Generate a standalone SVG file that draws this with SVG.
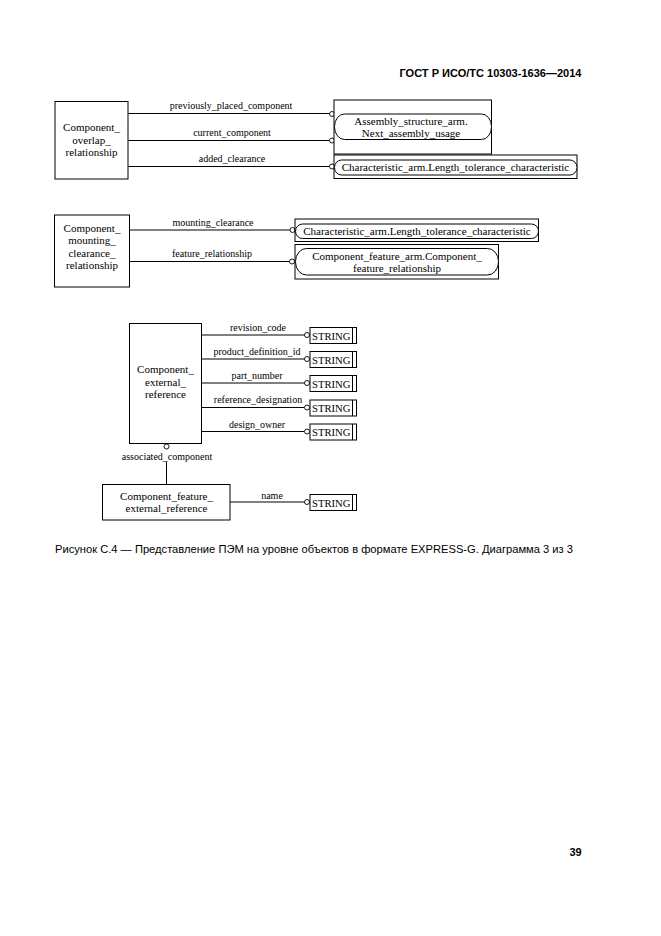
<svg xmlns="http://www.w3.org/2000/svg" width="661" height="936" viewBox="0 0 661 936">
<style>
.box{fill:#fff;stroke:#000;stroke-width:1}
.rnd{fill:#fff;stroke:#000;stroke-width:1}
.ln{fill:none;stroke:#000;stroke-width:1}
.circ{fill:#fff;stroke:#000;stroke-width:0.9}
.nt{font-family:"Liberation Serif","Times New Roman",serif;font-size:11px;text-anchor:middle;fill:#000}
.lb{font-family:"Liberation Serif","Times New Roman",serif;font-size:10px;text-anchor:middle;fill:#000}
.st{font-family:"Liberation Serif","Times New Roman",serif;font-size:10.5px;fill:#000}
.hd{font-family:"Liberation Sans",Arial,sans-serif;font-weight:bold;font-size:11px;fill:#000}
.cap{font-family:"Liberation Sans",Arial,sans-serif;font-size:10.5px;fill:#000}
</style>
<defs>
<g id="strbox">
<rect class="box" x="0" y="0" width="46.5" height="16"/>
<line class="ln" x1="42.5" y1="0" x2="42.5" y2="16"/>
<text class="st" x="2" y="12" textLength="38.5" lengthAdjust="spacingAndGlyphs">STRING</text>
</g>
</defs>
<rect x="0" y="0" width="661" height="936" fill="#fff"/>
<text class="hd" x="399.5" y="77" textLength="182" lengthAdjust="spacingAndGlyphs">ГОСТ Р ИСО/ТС 10303-1636—2014</text>

<g id="connectors">
<line class="ln" x1="128" y1="113.5" x2="329.5" y2="113.5"/>
<circle class="circ" cx="332" cy="114" r="2.5"/>
<text class="lb" x="231" y="109">previously_placed_component</text>
<line class="ln" x1="128" y1="140.5" x2="329.5" y2="140.5"/>
<circle class="circ" cx="332" cy="140.5" r="2.5"/>
<text class="lb" x="232" y="136">current_component</text>
<line class="ln" x1="128" y1="166.5" x2="329.5" y2="166.5"/>
<circle class="circ" cx="332" cy="166.5" r="2.5"/>
<text class="lb" x="232" y="162">added_clearance</text>

<line class="ln" x1="129.5" y1="230" x2="290" y2="230"/>
<circle class="circ" cx="292.5" cy="230" r="2.5"/>
<text class="lb" x="213" y="226">mounting_clearance</text>
<line class="ln" x1="129.5" y1="261.5" x2="289.5" y2="261.5"/>
<circle class="circ" cx="292" cy="261.5" r="2.5"/>
<text class="lb" x="212" y="257">feature_relationship</text>

<line class="ln" x1="202" y1="335" x2="304.5" y2="335"/>
<circle class="circ" cx="307" cy="335" r="2.5"/>
<text class="lb" x="258" y="331">revision_code</text>
<line class="ln" x1="202" y1="359" x2="304.5" y2="359"/>
<circle class="circ" cx="307" cy="359" r="2.5"/>
<text class="lb" x="257" y="355">product_definition_id</text>
<line class="ln" x1="202" y1="383" x2="304.5" y2="383"/>
<circle class="circ" cx="307" cy="383" r="2.5"/>
<text class="lb" x="257" y="379">part_number</text>
<line class="ln" x1="202" y1="407.5" x2="304.5" y2="407.5"/>
<circle class="circ" cx="307" cy="407.5" r="2.5"/>
<text class="lb" x="258" y="403">reference_designation</text>
<line class="ln" x1="202" y1="431.5" x2="304.5" y2="431.5"/>
<circle class="circ" cx="307" cy="431.5" r="2.5"/>
<text class="lb" x="257" y="427.5">design_owner</text>

<circle class="circ" cx="166.5" cy="446.5" r="2.5"/>
<text class="lb" x="167" y="459.5">associated_component</text>
<line class="ln" x1="166.5" y1="462" x2="166.5" y2="484.5"/>

<line class="ln" x1="230" y1="502" x2="304.5" y2="502"/>
<circle class="circ" cx="307" cy="502" r="2.5"/>
<text class="lb" x="272" y="499">name</text>
</g>

<g id="n_overlap">
<rect class="box" x="55" y="101.5" width="73" height="77.5"/>
<text class="nt" x="91.5" y="131">Component_</text>
<text class="nt" x="91.5" y="143.5">overlap_</text>
<text class="nt" x="91.5" y="156">relationship</text>
</g>

<g id="n_assembly">
<rect class="box" x="334" y="100" width="157.5" height="54"/>
<rect class="rnd" x="334.5" y="114" width="157" height="25.5" rx="10" ry="12.5"/>
<text class="nt" x="411" y="124.5">Assembly_structure_arm.</text>
<text class="nt" x="411" y="136.5">Next_assembly_usage</text>
</g>

<g id="n_char1">
<rect class="box" x="334" y="155" width="243" height="23.5"/>
<rect class="rnd" x="334.5" y="160" width="242.5" height="15" rx="7" ry="7.5"/>
<text class="nt" x="455.5" y="171">Characteristic_arm.Length_tolerance_characteristic</text>
</g>

<g id="n_mounting">
<rect class="box" x="54.5" y="215" width="75" height="72"/>
<text class="nt" x="92" y="231.5">Component_</text>
<text class="nt" x="92" y="244">mounting_</text>
<text class="nt" x="92" y="256.5">clearance_</text>
<text class="nt" x="92" y="269">relationship</text>
</g>

<g id="n_char2">
<rect class="box" x="295" y="219" width="243.5" height="22.5"/>
<rect class="rnd" x="295.5" y="224" width="243" height="14.5" rx="7" ry="7.25"/>
<text class="nt" x="417" y="234.5">Characteristic_arm.Length_tolerance_characteristic</text>
</g>

<g id="n_cfr">
<rect class="box" x="295" y="244.5" width="203.5" height="34.5"/>
<rect class="rnd" x="295.5" y="248.5" width="203" height="26.5" rx="11" ry="13"/>
<text class="nt" x="397" y="259.5">Component_feature_arm.Component_</text>
<text class="nt" x="397" y="271.5">feature_relationship</text>
</g>

<g id="n_cer">
<rect class="box" x="129.5" y="323.5" width="72" height="120"/>
<text class="nt" x="165.5" y="373">Component_</text>
<text class="nt" x="165.5" y="385.5">external_</text>
<text class="nt" x="165.5" y="398">reference</text>
</g>

<g id="n_str1"><use href="#strbox" x="310" y="327.5"/></g>
<g id="n_str2"><use href="#strbox" x="310" y="351.5"/></g>
<g id="n_str3"><use href="#strbox" x="310" y="375.5"/></g>
<g id="n_str4"><use href="#strbox" x="310" y="400"/></g>
<g id="n_str5"><use href="#strbox" x="310" y="424"/></g>

<g id="n_cfer">
<rect class="box" x="102.5" y="484.5" width="127.5" height="35.5"/>
<text class="nt" x="166.5" y="499.5">Component_feature_</text>
<text class="nt" x="166.5" y="511.5">external_reference</text>
</g>

<g id="n_str6"><use href="#strbox" x="310" y="494.5"/></g>

<text class="cap" x="55" y="553" textLength="518" lengthAdjust="spacingAndGlyphs">Рисунок С.4 — Представление ПЭМ на уровне объектов в формате EXPRESS-G. Диаграмма 3 из 3</text>
<text class="hd" x="569.5" y="856">39</text>
</svg>
